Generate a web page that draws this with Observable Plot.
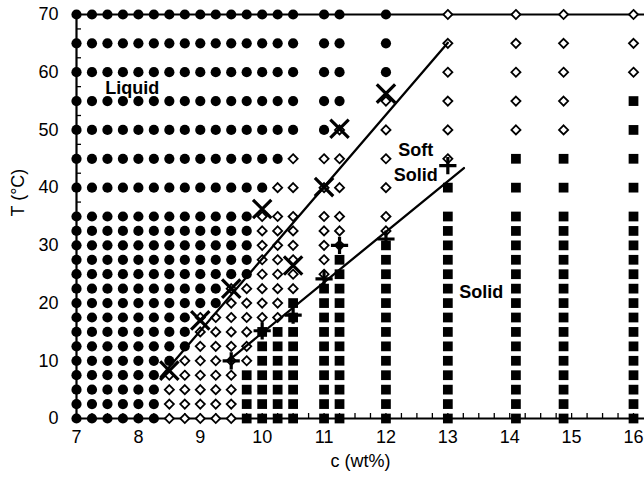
<!DOCTYPE html>
<html><head><meta charset="utf-8">
<script src="https://cdn.jsdelivr.net/npm/d3@7"></script>
<script src="https://cdn.jsdelivr.net/npm/@observablehq/plot@0.6"></script>
<style>
html,body{margin:0;padding:0;background:#fff;}
#chart{width:644px;height:491px;overflow:hidden;}
</style></head><body><div id="chart"></div>
<script>
// Temperatures (°C) of the observation rows, bottom to top
const temperatureRows = [0, 2.5, 5, 7.5, 10, 12.5, 15, 17.5, 20, 22.5, 25, 27.5, 30, 32.5, 35, 40, 45, 50, 55, 60, 65, 70];
// Concentrations (wt%) of the observation columns
const concentrationColumns = [7, 7.25, 7.5, 7.75, 8, 8.25, 8.5, 8.75, 9, 9.25, 9.5, 9.75, 10, 10.25, 10.5, 11, 11.25, 12, 13, 14.1, 14.87, 16];
// Observed state per column, one letter per row from 0 °C upward: L = liquid, D = soft solid, S = solid
const phaseByColumn = [
  "LLLLLLLLLLLLLLLLLLLLLL", // 7
  "LLLLLLLLLLLLLLLLLLLLLL", // 7.25
  "LLLLLLLLLLLLLLLLLLLLLL", // 7.5
  "LLLLLLLLLLLLLLLLLLLLLL", // 7.75
  "LLLLLLLLLLLLLLLLLLLLLL", // 8
  "LLLLLLLLLLLLLLLLLLLLLL", // 8.25
  "DDDDLLLLLLLLLLLLLLLLLL", // 8.5
  "DDDDDLLLLLLLLLLLLLLLLL", // 8.75
  "DDDDDDDDLLLLLLLLLLLLLL", // 9
  "DDDDDDDDLLLLLLLLLLLLLL", // 9.25
  "DDDDDDDDDDLLLLLLLLLLLL", // 9.5
  "SSSSDDDDDDLLLLLLLLLLLL", // 9.75
  "SSSSSSSDDDDDDDDLLLLLLL", // 10
  "SSSSSSSDDDDDDDDDLLLLLL", // 10.25
  "SSSSSSSSSDDDDDDDDLLLLL", // 10.5
  "SSSSSSSSSSDDDDDDDLLLLL", // 11
  "SSSSSSSSSSSSDDDDDDLLLL", // 11.25
  "SSSSSSSSSSSSSDDDDDDLLL", // 12
  "SSSSSSSSSSSSSSSSDDDDDD", // 13
  "SSSSSSSSSSSSSSSSSDDDDD", // 14.1
  "SSSSSSSSSSSSSSSSSDDDDD", // 14.87
  "SSSSSSSSSSSSSSSSSSSDDD"  // 16
];
// Liquid -> soft solid transitions (×)
const liquidusC = [8.5, 9.0, 9.5, 10.0, 10.5, 11.0, 11.25, 12.0];
const liquidusT = [8.3, 17.0, 22.5, 36.3, 26.5, 40.1, 50.2, 56.3];
// Soft solid -> solid transitions (+)
const solidusC = [9.5, 10.0, 10.5, 11.0, 11.25, 12.0, 13.0];
const solidusT = [10.0, 15.2, 17.9, 24.2, 30.0, 31.1, 43.8];
// Boundary lines (end points)
const liquidLineC = [8.36, 13.0];
const liquidLineT = [7.2, 65.1];
const solidLineC = [9.45, 13.26];
const solidLineT = [10.0, 43.4];
// Axis tick labels
const xTickLabels = [7, 8, 9, 10, 11, 12, 13, 14, 15, 16];
const yTickLabels = [0, 10, 20, 30, 40, 50, 60, 70];
const xMinorTicks = d3.range(7, 16.2, 0.25);
const yMinorTicks = d3.range(0, 70.1, 2.5);
// Region labels
const regionLabels = ["Liquid", "Soft", "Solid", "Solid"];
const regionLabelC = [7.9, 12.48, 12.48, 13.54];
const regionLabelT = [57.2, 46.4, 42.2, 21.8];

const observations = [];
concentrationColumns.forEach((c, i) => {
  const s = phaseByColumn[i];
  temperatureRows.forEach((t, j) => observations.push({c, t, phase: s[j]}));
});
const liquidus = liquidusC.map((c, i) => ({c, t: liquidusT[i]}));
const solidus = solidusC.map((c, i) => ({c, t: solidusT[i]}));
const liquidLine = liquidLineC.map((c, i) => ({c, t: liquidLineT[i]}));
const solidLine = solidLineC.map((c, i) => ({c, t: solidLineT[i]}));

const W = 644, H = 491, ML = 76, MR = 0, MT = 14, MB = 73;
const plotH = H - MT - MB, plotW = W - ML - MR;

const chart = Plot.plot({
  width: W, height: H,
  marginLeft: ML, marginRight: MR, marginTop: MT, marginBottom: MB,
  style: {fontFamily: "'Liberation Sans', Arial, sans-serif", fontSize: "18px", color: "black", background: "white", overflow: "visible"},
  x: {domain: [7, 7 + plotW / 61.89], ticks: xTickLabels, tickSize: 0, tickPadding: 12, label: null},
  y: {domain: [0, 70], ticks: yTickLabels, tickSize: 0, tickPadding: 18, label: null},
  marks: [
    Plot.tickX(xMinorTicks, {x: d => d, insetTop: plotH - 5, stroke: "black", strokeWidth: 1.3}),
    Plot.tickY(yMinorTicks, {y: d => d, insetRight: plotW - 5, stroke: "black", strokeWidth: 1.3}),
    Plot.ruleY([0], {stroke: "black", strokeWidth: 2.2}),
    Plot.ruleY([70], {stroke: "black", strokeWidth: 2}),
    Plot.ruleX([7], {stroke: "black", strokeWidth: 2.2}),
    Plot.dot(observations.filter(d => d.phase === "L"), {x: "c", y: "t", r: 5.1, fill: "black", stroke: "none"}),
    Plot.dot(observations.filter(d => d.phase === "D"), {x: "c", y: "t", symbol: "diamond2", r: 4.1, fill: "white", stroke: "black", strokeWidth: 1.8}),
    Plot.dot(observations.filter(d => d.phase === "S"), {x: "c", y: "t", symbol: "square", r: 5.5, fill: "black", stroke: "none"}),
    Plot.line(liquidLine, {x: "c", y: "t", stroke: "black", strokeWidth: 2.3}),
    Plot.line(solidLine, {x: "c", y: "t", stroke: "black", strokeWidth: 2.3}),
    Plot.dot(liquidus, {x: "c", y: "t", symbol: "times", r: 8.4, fill: "none", stroke: "black", strokeWidth: 3.2}),
    Plot.dot(solidus, {x: "c", y: "t", symbol: "plus", r: 5.6, fill: "none", stroke: "black", strokeWidth: 3.2}),
    Plot.text(regionLabels, {x: regionLabelC, y: regionLabelT, text: d => d, fontWeight: "bold", fontSize: 18, fill: "black"}),
    Plot.text(["c (wt%)"], {frameAnchor: "bottom", text: d => d, dy: 48, fontSize: 18, fill: "black"}),
    Plot.text(["T (°C)"], {frameAnchor: "left", text: d => d, rotate: -90, dx: -58, fontSize: 18, fill: "black"})
  ]
});
document.getElementById("chart").appendChild(chart);
</script>
</body></html>
